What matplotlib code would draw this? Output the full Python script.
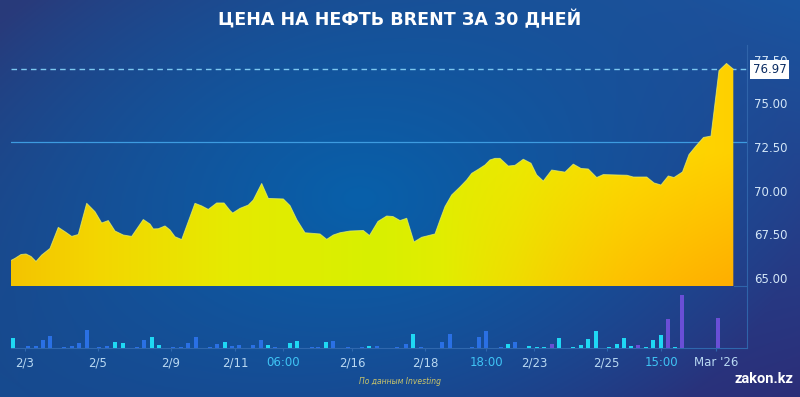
import numpy as np
import matplotlib.pyplot as plt
from matplotlib.colors import to_rgb
from matplotlib.lines import Line2D
from matplotlib.patches import Polygon
import matplotlib.transforms as mtransforms

# ---- data ----
title = "ЦЕНА НА НЕФТЬ BRENT ЗА 30 ДНЕЙ"

hours = [0, 4.3, 10.3, 15.3, 20.3, 25.3, 31, 39.3, 47.6, 54.3, 61, 67.6, 76, 84.3,
         91, 97.6, 104.3, 112.6, 121, 132.6, 139.3, 142.6, 147.6, 154.3, 159.3, 164.3,
         171, 184.3, 191, 197.6, 206, 213.3, 219.3, 222, 229.3, 237.6, 242.6, 251,
         257.6, 272.6, 279.3, 286.3, 294.3, 309.3, 316, 322.6, 329.3, 339.3, 352.6,
         358.8, 367.3, 376, 382.3, 389.3, 396, 403.3, 411, 424.3, 429.3, 434.3, 441,
         449.3, 456, 461, 467.6, 474.3, 479.3, 484.3, 489.3, 497.6, 504.3, 512.6,
         520.3, 526, 532.6, 541, 554.3, 562.6, 570.3, 577.6, 586, 592.6, 616.3,
         622.6, 636, 643.3, 650.3, 657.6, 663.3, 671.8, 678.3, 685.3, 692.8, 700.3,
         708.3, 715.8, 722.6]
price = [65.98, 66.11, 66.33, 66.36, 66.22, 65.93, 66.30, 66.68, 67.89, 67.64, 67.37,
         67.48, 69.27, 68.79, 68.14, 68.28, 67.68, 67.45, 67.37, 68.34, 68.08, 67.80,
         67.81, 67.97, 67.74, 67.35, 67.19, 69.27, 69.12, 68.92, 69.29, 69.29, 68.86,
         68.71, 68.98, 69.17, 69.46, 70.41, 69.55, 69.52, 69.14, 68.31, 67.58, 67.51,
         67.20, 67.45, 67.58, 67.68, 67.71, 67.42, 68.23, 68.54, 68.51, 68.28, 68.41,
         67.05, 67.32, 67.51, 68.31, 69.08, 69.75, 70.21, 70.61, 70.99, 71.22, 71.47,
         71.76, 71.85, 71.85, 71.41, 71.45, 71.80, 71.57, 70.90, 70.55, 71.18, 71.06,
         71.52, 71.27, 71.24, 70.75, 70.92, 70.88, 70.78, 70.78, 70.44, 70.32, 70.84,
         70.75, 71.07, 72.07, 72.56, 73.05, 73.13, 76.89, 77.30, 76.97]
last_price = 76.97
ref_level = 72.8

vol_hours = [2.6, 17.6, 25, 32, 39.3, 53.6, 61, 68.3, 76, 88.6, 96, 104.3, 112, 126,
             133.3, 141, 148.6, 162.6, 170, 177, 185, 199.3, 206.6, 214.3, 221.6, 228.6,
             242.6, 250, 257, 264.3, 279.3, 286, 301, 307.6, 315, 322.6, 337.6, 351,
             358.6, 366, 386, 395.3, 402.6, 410, 431.6, 439.3, 461, 468.3, 475.3, 490,
             497, 504.6, 518.6, 526, 533.3, 541, 548.3, 562.6, 570, 577, 585, 598.6,
             606, 613.3, 620.3, 627.6, 635.3, 642.6, 650, 657, 664.3, 671.6, 707.6]
volume = [10, 1.7, 1.7, 7.7, 11.7, 1, 1.7, 5, 17.7, 1, 1.7, 6, 4.3, 0.4, 7.7, 11, 2.3,
          1, 1, 5, 10.3, 1, 3.3, 5.3, 1.3, 2.3, 2.3, 7.7, 2.3, 0.4, 4.3, 7, 0.4, 0.4,
          6, 7, 0.4, 0.4, 2, 2, 1, 3.7, 13.7, 0.4, 6, 13.3, 1, 11, 16.7, 0.7, 3.3, 6,
          1.3, 1, 1, 4, 10, 0.4, 2.3, 8.7, 16.7, 0.4, 4, 10, 1.3, 2.3, 0.4, 7.3, 12.7,
          28.7, 0.7, 52.7, 30]
vol_kind = list("c" + "bbbbbbbbbb" + "cc" + "bb" + "cc" + "bbbbbb" + "c" + "bbbb" + "c"
                + "b" + "cc" + "bb" + "c" + "bbb" + "c" + "bbb" + "c" + "bbbbbbb" + "c"
                + "b" + "ccc" + "p" + "ccccccccc" + "p" + "ccc" + "p" + "c" + "pp")

tick_hours = [14.3, 87, 160.1, 224.3, 272.6, 341.3, 414.6, 475.6, 523.3, 596, 650.3, 705]
tick_labels = ['2/3', '2/5', '2/9', '2/11', '06:00', '2/16', '2/18', '18:00', '2/23',
               '2/25', '15:00', "Mar '26"]
y_ticks = [65, 67.5, 70, 72.5, 75, 77.5]

# ---- figure ----
W, H = 800, 397
fig = plt.figure(figsize=(W / 100, H / 100), dpi=100)


def fx(px):
    return px / W


def fy(py):
    return 1 - py / H


def mix(c1, c2, w):
    return np.asarray(to_rgb(c1)) * (1 - w[..., None]) + np.asarray(to_rgb(c2)) * w[..., None]


# background gradient
yy, xx = np.mgrid[0:1:200j, 0:1:400j]
top = mix('#293a7a', '#1a55a0', xx)
bot = mix('#164b90', '#2c2e78', xx)
bg = top * (1 - yy[..., None]) + bot * yy[..., None]
r = np.sqrt(((xx - 0.45) / 0.55) ** 2 + ((yy - 0.5) / 0.75) ** 2)
wc = np.clip(1 - r, 0, 1) ** 0.9
bg = bg * (1 - wc[..., None]) + np.asarray(to_rgb('#0860aa')) * wc[..., None]
bgax = fig.add_axes([0, 0, 1, 1])
bgax.imshow(bg, aspect='auto', extent=[0, 1, 0, 1])
bgax.set_axis_off()

# price axes
ybot = 65 - (286 - 277.7) / 17.42
ytop = 65 + (277.7 - 50) / 17.42
ax = fig.add_axes([fx(10.7), fy(286), fx(747) - fx(10.7), fy(50) - fy(286)])
ax.patch.set_alpha(0)

# yellow gradient fill clipped to the price area
u = np.linspace(0, 1, 300)[None, :].repeat(120, 0)
v = np.linspace(0, 1, 120)[:, None].repeat(300, 1)
stops_x = [0, 0.12, 0.3, 0.5, 0.7, 0.85, 1.0]
stops_c = ['#f4c400', '#f3d600', '#e6ea00', '#d8f000', '#ebea00', '#fbdc00', '#ffd000']
rgb = np.stack([np.interp(u, stops_x, [to_rgb(c)[i] for c in stops_c]) for i in range(3)], -1)
wo = np.clip((u - 0.6) / 0.4, 0, 1) * np.clip(1 - v / 0.6, 0, 1) * 0.85
rgb = rgb * (1 - wo[..., None]) + np.asarray(to_rgb('#ffa800')) * wo[..., None]

verts = [(hours[0], ybot)] + list(zip(hours, price)) + [(hours[-1], ybot)]
poly = Polygon(verts, closed=True, fc='none', ec='none')
ax.add_patch(poly)
im = ax.imshow(rgb, extent=[hours[0], hours[-1], ybot, max(price)], aspect='auto',
               origin='lower', zorder=3)
im.set_clip_path(poly)
ax.plot(hours, price, color='#eef56a', lw=0.7, alpha=0.7, zorder=4)

ax.axhline(ref_level, color='#3d9be0', lw=0.9, zorder=2)
ax.axhline(last_price, color='#7cc8f0', lw=1, dashes=(4, 3), zorder=2)

ax.set_xlim(0, 736.3)
ax.set_ylim(ybot, ytop)
ax.set_xticks([])
ax.yaxis.tick_right()
ax.set_yticks(y_ticks)
ax.set_yticklabels([f'{t:.2f}' for t in y_ticks])
ax.tick_params(axis='y', length=0, pad=5, labelsize=8.5, labelcolor='#d3e6f7')
for s in ax.spines.values():
    s.set_visible(False)

trans = mtransforms.offset_copy(mtransforms.blended_transform_factory(ax.transAxes, ax.transData),
                                fig=fig, x=4, y=0, units='points')
ax.text(1.0, last_price, f'{last_price:.2f}', transform=trans, ha='left', va='center',
        fontsize=8.5, color='#0c2d63', zorder=6,
        bbox=dict(boxstyle='square,pad=0.25', fc='white', ec='none'))

# volume axes
vax = fig.add_axes([fx(10.7), fy(347.7), fx(747) - fx(10.7), (347.7 - 292.7) / H])
vax.patch.set_alpha(0)
kind_colors = {'c': '#1fd8f4', 'b': '#2a70e4', 'p': '#6a4fd6'}
vax.bar(vol_hours, volume, width=4.2, color=[kind_colors[k] for k in vol_kind], zorder=3)
vax.set_xlim(0, 736.3)
vax.set_ylim(0, 55)
vax.set_yticks([])
vax.set_xticks(tick_hours)
vax.set_xticklabels(tick_labels)
vax.tick_params(axis='x', length=2, color='#2f67ad', pad=4, labelsize=8.5)
for lab in vax.get_xticklabels():
    lab.set_color('#3fc4f5' if ':' in lab.get_text() else '#b8d8f2')
for name, s in vax.spines.items():
    if name == 'bottom':
        s.set_color('#2f67ad')
        s.set_linewidth(0.8)
    else:
        s.set_visible(False)

fig.add_artist(Line2D([fx(747), fx(747)], [fy(45), fy(348)], color='#2f64aa', lw=0.8))
fig.add_artist(Line2D([fx(734), fx(747)], [fy(286), fy(286)], color='#2f64aa', lw=0.8))

fig.text(0.5, fy(20), title, ha='center', va='center', fontsize=12.6, weight='bold',
         color='white', family='DejaVu Sans')
fig.text(fx(400), fy(381), 'По данным Investing', ha='center', va='center', fontsize=5.5,
         style='italic', color='#c9c46a')
fig.text(fx(793), fy(379), 'zakon.kz', ha='right', va='center', fontsize=10.5,
         weight='bold', color='white', family='Roboto')

fig.savefig('out.png', dpi=100)
